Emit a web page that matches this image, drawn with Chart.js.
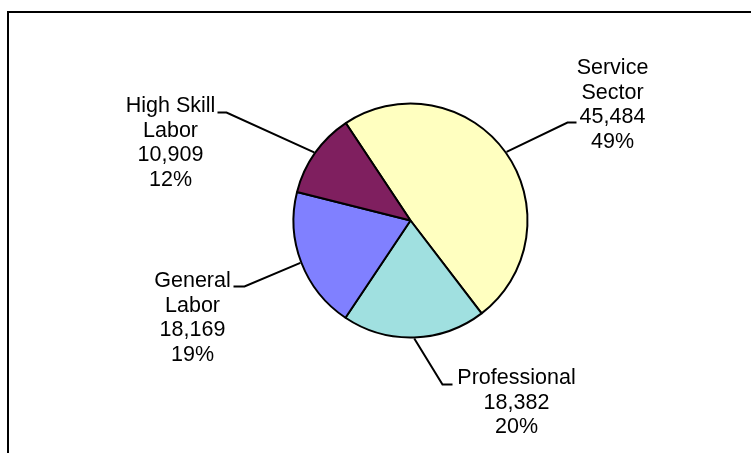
<!DOCTYPE html>
<html>
<head>
<meta charset="utf-8">
<script src="https://cdn.jsdelivr.net/npm/chart.js@4"></script>
<style>
  html, body { margin: 0; padding: 0; background: #fff; }
  #wrap { width: 751px; height: 453px; position: relative; }
</style>
</head>
<body>
<div id="wrap"><canvas id="jobsPie"></canvas></div>
<script>
const categories = [['Service', 'Sector'], ['Professional'], ['General', 'Labor'], ['High Skill', 'Labor']];
const jobCounts = [45484, 18382, 18169, 10909];
const shareLabels = ['49%', '20%', '19%', '12%'];
const sliceColors = ['#FFFFC0', '#A0E0E0', '#8080FF', '#7F1F5F'];

// callout layout, relative to the pie centre: text centre x, first line y,
// leader elbow and the leader end beside the text
const callouts = [
  { x: 202, y: -152, elbow: [157, -98], end: [166, -98] },
  { x: 106, y: 158, elbow: [32, 164], end: [42, 164] },
  { x: -218, y: 61, elbow: [-166, 66], end: [-177, 66] },
  { x: -240, y: -114, elbow: [-184, -108], end: [-193, -108] }
];

// white page with the outer frame running off the right and bottom
const framePlugin = {
  id: 'frame',
  beforeDraw(chart) {
    const ctx = chart.ctx;
    ctx.save();
    ctx.fillStyle = '#fff';
    ctx.fillRect(0, 0, chart.width, chart.height);
    ctx.strokeStyle = '#000';
    ctx.lineWidth = 2;
    ctx.strokeRect(8, 12, chart.width + 50, chart.height + 50);
    ctx.restore();
  }
};

// leader lines + multi-line labels for each slice
const calloutPlugin = {
  id: 'callouts',
  afterDatasetsDraw(chart) {
    const ctx = chart.ctx;
    const arcs = chart.getDatasetMeta(0).data;
    ctx.save();
    arcs.forEach((arc, i) => {
      const { x, y, startAngle, endAngle, outerRadius } =
        arc.getProps(['x', 'y', 'startAngle', 'endAngle', 'outerRadius'], true);
      const mid = (startAngle + endAngle) / 2;
      const c = callouts[i];

      ctx.strokeStyle = '#000';
      ctx.lineWidth = 2;
      ctx.beginPath();
      ctx.moveTo(x + Math.cos(mid) * (outerRadius + 1), y + Math.sin(mid) * (outerRadius + 1));
      ctx.lineTo(x + c.elbow[0], y + c.elbow[1]);
      ctx.lineTo(x + c.end[0], y + c.end[1]);
      ctx.stroke();

      const lines = [...categories[i], jobCounts[i].toLocaleString('en-US'), shareLabels[i]];
      ctx.fillStyle = '#000';
      ctx.font = '21.5px "Liberation Sans", Arial, sans-serif';
      ctx.textAlign = 'center';
      ctx.textBaseline = 'middle';
      lines.forEach((t, k) => ctx.fillText(t, x + c.x, y + c.y + k * 24.5));
    });
    ctx.restore();
  }
};

new Chart(document.getElementById('jobsPie'), {
  type: 'pie',
  data: {
    labels: categories.map(l => l.join(' ')),
    datasets: [{
      data: jobCounts,
      backgroundColor: sliceColors,
      borderColor: '#000',
      borderWidth: 2
    }]
  },
  options: {
    responsive: true,
    maintainAspectRatio: false,
    animation: false,
    rotation: -33.6,
    radius: 117,
    layout: { padding: { left: 200, right: 130, top: 100, bottom: 112 } },
    plugins: {
      legend: { display: false },
      tooltip: { enabled: false }
    }
  },
  plugins: [framePlugin, calloutPlugin]
});
</script>
</body>
</html>
